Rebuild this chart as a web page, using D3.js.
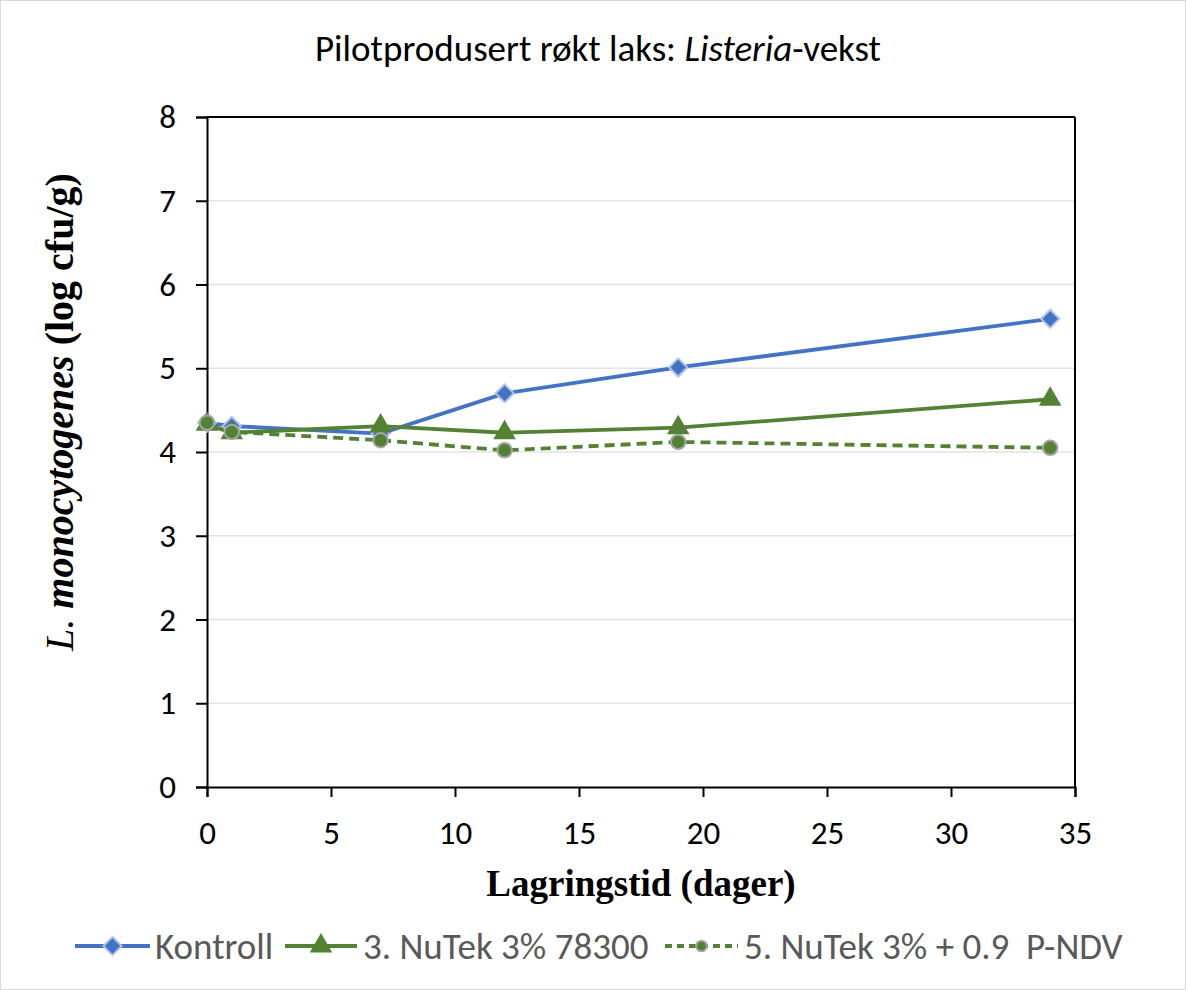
<!DOCTYPE html>
<html><head><meta charset="utf-8">
<script src="https://cdn.jsdelivr.net/npm/d3@7"></script>
<style>body{margin:0;background:#fff}svg{display:block}</style>
</head><body>
<svg id="c" width="1186" height="990"></svg>
<script>
const days = [0, 1, 7, 12, 19, 34];
const kontroll = [4.35, 4.31, 4.22, 4.70, 5.01, 5.59];
const nutek78300 = [4.33, 4.23, 4.31, 4.23, 4.29, 4.63];
const nutekPNDV = [4.35, 4.24, 4.14, 4.02, 4.12, 4.05];
const seriesNames = ["Kontroll", "3. NuTek 3% 78300", "5. NuTek 3% + 0.9  P-NDV"];
const xTicks = [0, 5, 10, 15, 20, 25, 30, 35];
const yTicks = [0, 1, 2, 3, 4, 5, 6, 7, 8];

const svg = d3.select("#c");
const W = 1186, H = 990;
const m = {l: 207, r: 1075, t: 117, b: 787};
const x = d3.scaleLinear().domain([0, 35]).range([m.l, m.r]);
const y = d3.scaleLinear().domain([0, 8]).range([m.b, m.t]);
const sans = "Calibri, Carlito, Lato, 'Open Sans', sans-serif";
const serif = "Garamond, 'Liberation Serif', 'DejaVu Serif', serif";

svg.append("rect").attr("x", 0.5).attr("y", 0.5).attr("width", W - 1).attr("height", H - 1)
  .attr("fill", "#fff").attr("stroke", "#d9d9d9");

// grid
svg.append("g").selectAll("line").data(yTicks.filter(d => d > 0)).join("line")
  .attr("x1", m.l).attr("x2", m.r).attr("y1", d => y(d)).attr("y2", d => y(d))
  .attr("stroke", "#e3e3e3").attr("stroke-width", 1.3);

// box top/right
svg.append("line").attr("x1", m.l).attr("x2", m.r).attr("y1", m.t).attr("y2", m.t).attr("stroke", "#000").attr("stroke-width", 2);
svg.append("line").attr("x1", m.r).attr("x2", m.r).attr("y1", m.t).attr("y2", m.b).attr("stroke", "#000").attr("stroke-width", 2);

// axes
const xAxis = svg.append("g").attr("transform", `translate(0,${m.b})`)
  .call(d3.axisBottom(x).tickValues(xTicks).tickSize(10).tickPadding(24));
const yAxis = svg.append("g").attr("transform", `translate(${m.l},0)`)
  .call(d3.axisLeft(y).tickValues(yTicks).tickSize(11).tickPadding(20));
[xAxis, yAxis].forEach(g => {
  g.select(".domain").attr("stroke", "#000").attr("stroke-width", 2);
  g.selectAll(".tick line").attr("stroke", "#000").attr("stroke-width", 2);
  g.selectAll(".tick text").attr("fill", "#000").style("font-family", sans).style("font-size", "33px");
});

// lines
const line = d3.line().x((d, i) => x(days[i])).y(d => y(d));
const blue = "#4472c4", green = "#548235";
svg.append("path").datum(kontroll).attr("d", line).attr("fill", "none").attr("stroke", blue).attr("stroke-width", 3.8);
svg.append("path").datum(nutek78300).attr("d", line).attr("fill", "none").attr("stroke", green).attr("stroke-width", 3.8);
svg.append("path").datum(nutekPNDV).attr("d", line).attr("fill", "none").attr("stroke", green).attr("stroke-width", 3.8).attr("stroke-dasharray", "10,6");

const tri = d3.symbol().type(d3.symbolTriangle).size(220);
const circ = d3.symbol().type(d3.symbolCircle).size(165);
const diam = d3.symbol().type(d3.symbolSquare).size(165);

svg.append("g").selectAll("path").data(kontroll).join("path")
  .attr("d", diam).attr("transform", (d, i) => `translate(${x(days[i])},${y(d)}) rotate(45)`)
  .attr("fill", blue).attr("stroke", "#adc3ea").attr("stroke-width", 2);
svg.append("g").selectAll("path").data(nutek78300).join("path")
  .attr("d", tri).attr("transform", (d, i) => `translate(${x(days[i])},${y(d)})`)
  .attr("fill", green);
svg.append("g").selectAll("path").data(nutekPNDV).join("path")
  .attr("d", circ).attr("transform", (d, i) => `translate(${x(days[i])},${y(d)})`)
  .attr("fill", green).attr("stroke", "#a5a5a5").attr("stroke-width", 2);

// title
const t = svg.append("text").attr("x", 598).attr("y", 61).attr("text-anchor", "middle")
  .style("font-family", sans).style("font-size", "37px").attr("fill", "#000");
t.append("tspan").text("Pilotprodusert røkt laks: ");
t.append("tspan").style("font-style", "italic").text("Listeria");
t.append("tspan").text("-vekst");

// x title
svg.append("text").attr("x", 641).attr("y", 896).attr("text-anchor", "middle")
  .style("font-family", serif).style("font-size", "37px").style("font-weight", "bold").text("Lagringstid (dager)");

// y title
const yt = svg.append("text").attr("transform", "translate(73,412) rotate(-90)").attr("text-anchor", "middle")
  .style("font-family", serif).style("font-size", "40px");
yt.append("tspan").style("font-style", "italic").text("L. ");
yt.append("tspan").style("font-style", "italic").style("font-weight", "bold").text("monocytogenes");
yt.append("tspan").style("font-weight", "bold").text(" (log cfu/g)");

// legend
const ly = 946;
const leg = [
  {x1: 75, x2: 150, tx: 155, color: blue, dash: null, mk: "d"},
  {x1: 285, x2: 357, tx: 363, color: green, dash: null, mk: "t"},
  {x1: 665, x2: 738, tx: 744, color: green, dash: "7,5", mk: "c"}
];
leg.forEach((L, i) => {
  svg.append("line").attr("x1", L.x1).attr("x2", L.x2).attr("y1", ly).attr("y2", ly)
    .attr("stroke", L.color).attr("stroke-width", 4).attr("stroke-dasharray", L.dash);
  const cx = (L.x1 + L.x2) / 2;
  if (L.mk === "d") svg.append("path").attr("d", diam())
    .attr("transform", `translate(${cx},${ly}) rotate(45)`).attr("fill", blue).attr("stroke", "#adc3ea").attr("stroke-width", 2);
  if (L.mk === "t") svg.append("path").attr("d", tri()).attr("transform", `translate(${cx},${ly})`).attr("fill", green);
  if (L.mk === "c") svg.append("path").attr("d", d3.symbol().type(d3.symbolCircle).size(90)()).attr("transform", `translate(${cx},${ly})`)
    .attr("fill", green).attr("stroke", "#a5a5a5").attr("stroke-width", 2);
  svg.append("text").attr("x", L.tx).attr("y", ly + 13).attr("fill", "#595959")
    .attr("xml:space", "preserve").style("white-space", "pre")
    .style("font-family", sans).style("font-size", "37px").text(seriesNames[i]);
});
</script>
</body></html>
